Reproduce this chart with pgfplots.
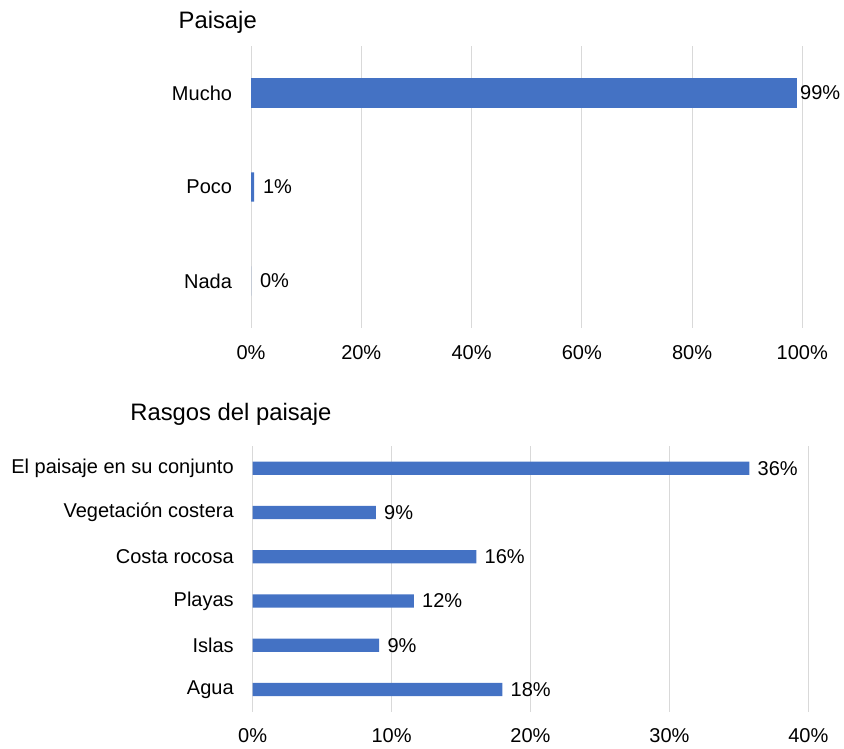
\documentclass[border=0pt]{standalone}
\usepackage{pgfplots}
\pgfplotsset{compat=1.18}
\usepackage{fontspec}
\setmainfont{Liberation Sans}
\definecolor{barblue}{HTML}{4472C4}
\definecolor{gridgray}{HTML}{D9D9D9}
\pgfplotsset{
  /pgf/number format/assume math mode=true,
  common/.style={
    scale only axis,
    clip=false,
    axis line style={draw=none},
    major tick length=0pt,
    tick style={draw=none},
    xmajorgrids=true,
    ymajorgrids=false,
    grid style={gridgray, line width=0.5pt},
    tick label style={font=\fontsize{10}{12}\selectfont, text=black},
    yticklabel style={anchor=east, inner sep=0pt, xshift=-9.3pt},
    xticklabel style={anchor=center, inner sep=0pt},
  },
  barstyle/.style={
    xbar, bar shift=0pt, fill=barblue, draw=none,
    nodes near coords={\pgfmathprintnumber[fixed,precision=0]{\pgfplotspointmeta}\%},
    point meta=explicit,
    nodes near coords style={anchor=west, inner sep=0pt, font=\fontsize{10}{12}\selectfont, text=black},
  },
}
\begin{document}
\begin{tikzpicture}
% ---------- top chart: Paisaje ----------
\begin{axis}[common,
  at={(125.5pt,210pt)}, anchor=south west,
  width=275.65pt, height=141pt,
  xmin=0, xmax=100, ymin=-0.5, ymax=2.5,
  xtick={0,20,40,60,80,100},
  xticklabels={0\%,20\%,40\%,60\%,80\%,100\%},
  xticklabel style={yshift=-12.2pt},
  ytick={0,1,2},
  yticklabels={Nada,Poco,Mucho},
]
\addplot[barstyle, bar width=0.312, nodes near coords style={xshift=1.5pt}]
  table[x=v, y=y, meta=lab] {
y v lab
2 99 99
};
\addplot[barstyle, bar width=0.312, nodes near coords style={xshift=4.3pt}]
  table[x=v, y=y, meta=lab] {
y v lab
1 0.55 1
0 0 0
};
\end{axis}
\node[anchor=base west, inner sep=0pt, font=\fontsize{11.9}{14}\selectfont] at (89.15pt,359.5pt) {Paisaje};
% ---------- bottom chart: Rasgos del paisaje ----------
\begin{axis}[common,
  at={(126.35pt,18.15pt)}, anchor=south west,
  width=277.8pt, height=132.85pt,
  xmin=0, xmax=40, ymin=-0.5, ymax=5.5,
  xtick={0,10,20,30,40},
  xticklabels={0\%,10\%,20\%,30\%,40\%},
  xticklabel style={yshift=-11.9pt},
  ytick={0,1,2,3,4,5},
  yticklabels={Agua,Islas,Playas,Costa rocosa,Vegetación costera,El paisaje en su conjunto},
]
\addplot[barstyle, bar width=0.3, nodes near coords style={xshift=4pt}]
  table[x=v, y=y, meta=lab] {
y v lab
5 35.75 36
4 8.86 9
3 16.1 16
2 11.6 12
1 9.1 9
0 17.97 18
};
\end{axis}
\node[anchor=base west, inner sep=0pt, font=\fontsize{11.9}{14}\selectfont] at (65pt,163.65pt) {Rasgos del paisaje};
\pgfresetboundingbox
\path[use as bounding box] (0,0) rectangle (422pt,374pt);
\end{tikzpicture}
\end{document}
